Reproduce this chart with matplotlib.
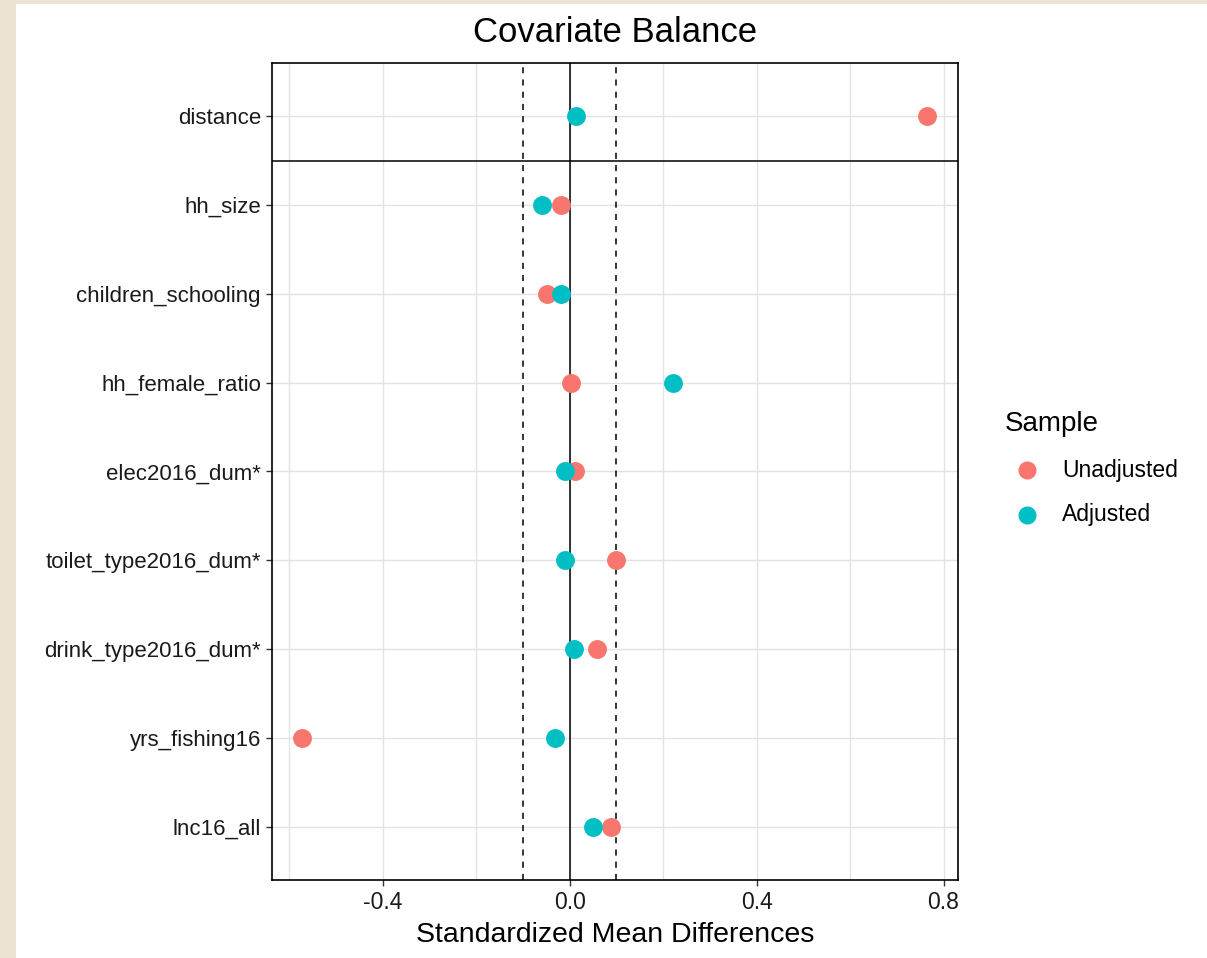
import numpy as np
import matplotlib.pyplot as plt
from matplotlib.patches import Rectangle
from matplotlib.lines import Line2D

plt.rcParams['font.family'] = ['Liberation Sans', 'DejaVu Sans']

covariates = ["distance", "hh_size", "children_schooling", "hh_female_ratio",
              "elec2016_dum*", "toilet_type2016_dum*", "drink_type2016_dum*",
              "yrs_fishing16", "lnc16_all"]
unadjusted = [0.765, -0.019, -0.049, 0.002, 0.011, 0.100, 0.058, -0.572, 0.088]
adjusted = [0.013, -0.060, -0.019, 0.221, -0.011, -0.011, 0.009, -0.032, 0.049]
threshold = 0.1
x_ticks = [-0.4, 0.0, 0.4, 0.8]
sample_names = ["Unadjusted", "Adjusted"]

col_un = "#F8766D"
col_ad = "#00BFC4"

W, H = 1207, 958
fig = plt.figure(figsize=(W / 100, H / 100), dpi=100)
fig.patch.set_facecolor("#ece4d2")
fig.add_artist(Rectangle((16 / W, 0), 1 - 16 / W, 1 - 4 / H,
                         transform=fig.transFigure, facecolor="white",
                         edgecolor="none", zorder=0))

ax = fig.add_axes([272 / W, 1 - 880 / H, (958 - 272) / W, (880 - 63) / H])
ax.set_facecolor("white")

n = len(covariates)
ypos = np.arange(n, 0, -1)

ax.set_xlim(-0.637, 0.831)
ax.set_ylim(0.4, n + 0.6)

# grid
for gx in np.arange(-0.6, 0.81, 0.2):
    ax.axvline(gx, color="#e3e3e3", lw=1.0, zorder=1)
for gy in ypos:
    ax.axhline(gy, color="#e3e3e3", lw=1.0, zorder=1)

ax.axvline(0, color="black", lw=1.1, zorder=2)
ax.axvline(-threshold, color="black", lw=1.1, ls=(0, (4, 4)), zorder=2)
ax.axvline(threshold, color="black", lw=1.1, ls=(0, (4, 4)), zorder=2)
ax.axhline(n - 0.5, color="black", lw=1.1, zorder=2)

ax.scatter(unadjusted, ypos, s=185, color=col_un, zorder=3, linewidths=0)
ax.scatter(adjusted, ypos, s=185, color=col_ad, zorder=4, linewidths=0)

ax.set_yticks(ypos)
ax.set_yticklabels(covariates, fontsize=16, color="#1a1a1a")
ax.set_xticks(x_ticks)
ax.set_xticklabels(["-0.4", "0.0", "0.4", "0.8"], fontsize=16.5, color="#1a1a1a")
ax.tick_params(axis="both", length=4, width=1, color="#333333", pad=4)
for sp in ax.spines.values():
    sp.set_linewidth(1.2)
    sp.set_color("black")

fig.text(615 / W, 1 - 935 / H, "Standardized Mean Differences", fontsize=20.5,
         ha="center", va="center")
fig.text(615 / W, 1 - 33 / H, "Covariate Balance", fontsize=25,
         ha="center", va="center")

# legend
fig.text(1005 / W, 1 - 424 / H, "Sample", fontsize=20, ha="left", va="center")
for i, (name, c) in enumerate(zip(sample_names, [col_un, col_ad])):
    yy = 1 - (470 + 45 * i) / H
    fig.add_artist(Line2D([1027 / W], [yy], marker="o", ls="", color=c,
                          markersize=13, markeredgewidth=0,
                          transform=fig.transFigure))
    fig.text(1062 / W, yy, name, fontsize=16.5, ha="left", va="center")

plt.savefig("out.png", dpi=100, facecolor=fig.get_facecolor())
